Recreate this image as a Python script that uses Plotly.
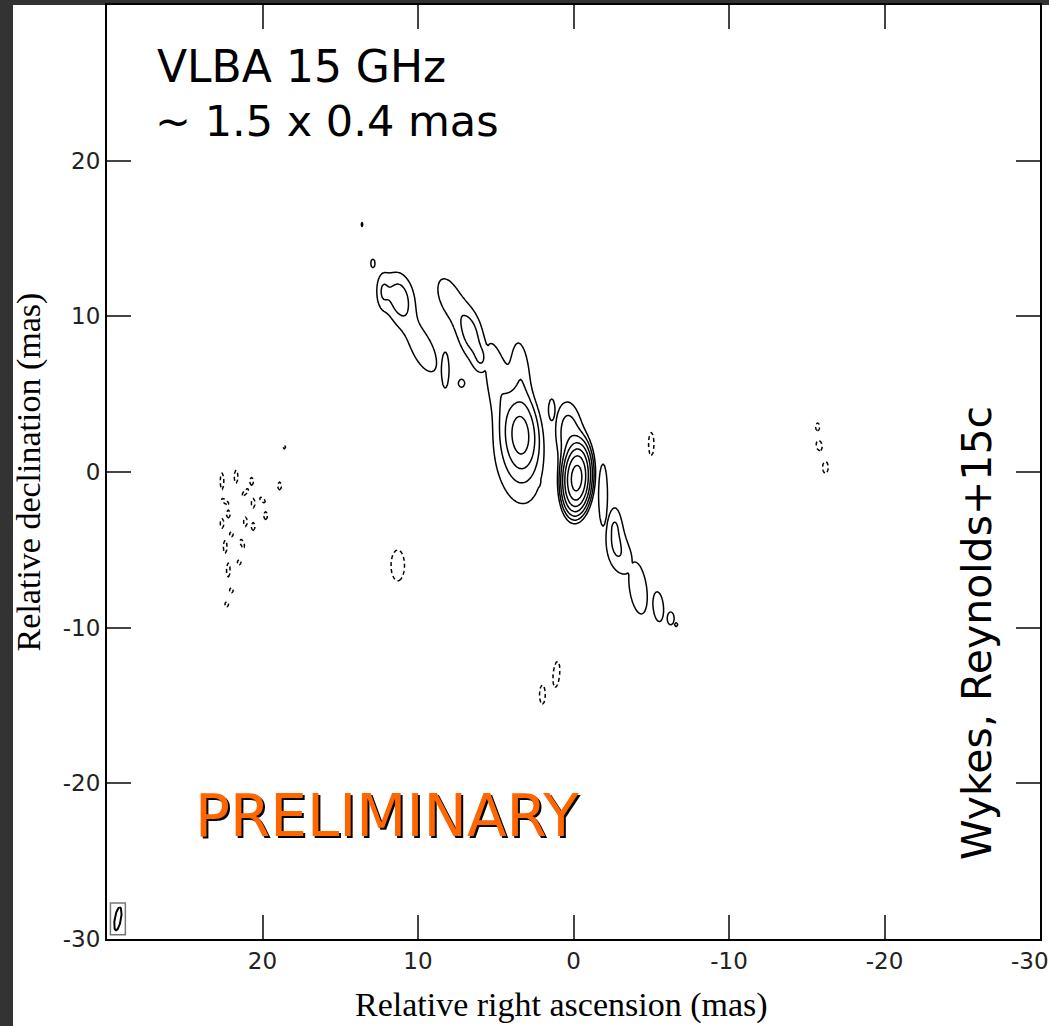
import numpy as np
import plotly.graph_objects as go

# ---------------- data: Gaussian model components read from the map ----------------
# x = relative RA offset (mas, east positive), y = relative Dec offset (mas)
# peak in units of the lowest contour, FWHM major/minor in mas, PA in deg (E of N)
# components sharing a group are summed; groups are combined by maximum
pos_group = [0, 0, 1, 2, 2, 2, 3, 4, 5, 6,
             7, 7, 7, 7, 8, 9,
             10, 10, 10, 11, 12,
             13, 13, 13, 14, 15]
pos_x    = [-0.2, 0.25, -1.9, -2.65, -3.1, -2.65, -4.15, -5.45, -6.25, -6.6,
            3.4, 3.6, 5.0, 3.4, 2.3, 1.4,
            6.6, 8.0, 5.9, 8.25, 7.2,
            11.2, 9.7, 12.3, 12.9, 13.6]
pos_y    = [-0.4, 2.3, -1.48, -3.6, -5.4, -3.5, -7.45, -8.65, -9.4, -9.8,
            2.4, 1.0, 6.3, 6.6, -0.6, 4.0,
            8.8, 11.2, 7.2, 6.55, 5.7,
            11.2, 7.9, 11.6, 13.4, 15.9]
pos_peak = [90, 3.0, 1.9, 1.6, 1.6, 0.3, 1.9, 1.9, 1.6, 1.2,
            10, 1.8, 1.6, 1.6, 1.3, 1.4,
            2.45, 1.5, 1.4, 1.6, 1.2,
            2.6, 1.7, 1.4, 1.3, 1.1]
pos_maj  = [2.3, 3.5, 4.15, 3.0, 2.8, 0.7, 3.5, 2.0, 1.0, 0.5,
            3.0, 6.5, 4.6, 3.9, 1.3, 2.0,
            2.9, 3.3, 1.6, 2.8, 1.0,
            2.8, 3.6, 2.0, 0.9, 0.7]
pos_min  = [0.95, 1.4, 0.6, 0.95, 1.5, 0.4, 1.15, 0.7, 0.55, 0.4,
            1.36, 3.0, 1.3, 1.1, 0.65, 0.6,
            1.35, 1.6, 0.9, 0.6, 0.8,
            1.6, 1.5, 0.7, 0.45, 0.35]
pos_pa   = [-3, 5, 0, 0, 15, 0, 8, 5, 0, 0,
            3, 8, 10, 5, 0, 0,
            12, 20, 0, 0, 0,
            10, 25, 0, 0, 0]

neg_x    = [11.3, -5.0, -15.7, -15.8, -16.2, 1.1, 2.0,
            18.6, 22.6, 21.7, 20.7, 18.9, 21.1, 22.4, 20.6, 20.0, 22.2, 22.6,
            21.1, 20.6, 19.8, 22.0, 22.4, 21.3, 22.2, 21.5, 22.0, 22.3]
neg_y    = [-6.0, 1.8, 2.9, 1.7, 0.3, -13.0, -14.3,
            1.6, -0.6, -0.3, -0.6, -0.9, -1.3, -1.9, -2.0, -1.8, -2.7, -3.3,
            -3.2, -3.5, -2.8, -4.0, -4.8, -4.6, -6.3, -5.8, -7.6, -8.5]
neg_peak = [1.6, 1.4, 1.25, 1.3, 1.3, 1.4, 1.3,
            1.15, 1.25, 1.25, 1.25, 1.25, 1.25, 1.25, 1.25, 1.25, 1.25, 1.25,
            1.25, 1.25, 1.25, 1.25, 1.25, 1.25, 1.25, 1.25, 1.25, 1.25]
neg_maj  = [2.4, 2.1, 0.9, 1.1, 1.2, 2.4, 2.0,
            0.5, 1.9, 1.5, 0.9, 0.9, 1.0, 1.0, 1.1, 0.8, 0.9, 1.1,
            1.1, 0.9, 0.9, 0.6, 1.5, 1.0, 1.6, 0.6, 0.6, 0.6]
neg_min  = [1.05, 0.5, 0.45, 0.6, 0.6, 0.6, 0.6,
            0.4, 0.4, 0.4, 0.4, 0.4, 0.4, 0.4, 0.4, 0.4, 0.4, 0.4,
            0.4, 0.4, 0.4, 0.4, 0.4, 0.4, 0.4, 0.4, 0.4, 0.4]
neg_pa   = [0, 0, 0, 10, 0, -5, 0,
            0, 0, 0, 0, 0, -40, 50, 0, 45, 0, 0,
            0, 0, 0, 0, 0, 20, 0, 0, 0, 0]

beam_maj, beam_min, beam_pa = 1.5, 0.4, -10
beam_center = (29.3, -28.7)

n_pos_levels = 7          # contours at 1, 2, 4, ... 2^(n-1) x lowest level
tick_vals = [-30, -20, -10, 0, 10, 20, 30]
x_tick_text = ["", "-20", "-10", "0", "10", "20", ""]
y_tick_text = ["-30", "-20", "-10", "0", "10", "20", ""]
edge_tick_label = "-30"

# ---------------- model image ----------------
xs = np.round(np.arange(-19.0, 25.0001, 0.1), 2)
ys = np.round(np.arange(-17.0, 17.0001, 0.1), 2)
X, Y = np.meshgrid(xs, ys)


def gauss(x0, y0, p, a, b, t):
    th = np.deg2rad(t)
    dx, dy = X - x0, Y - y0
    u = dx * np.sin(th) + dy * np.cos(th)
    v = dx * np.cos(th) - dy * np.sin(th)
    return p * np.exp(-4 * np.log(2) * ((u / a) ** 2 + (v / b) ** 2))


groups = {}
for g, x0, y0, p, a, b, t in zip(pos_group, pos_x, pos_y, pos_peak, pos_maj, pos_min, pos_pa):
    groups[g] = groups.get(g, 0) + gauss(x0, y0, p, a, b, t)
zp = np.max(np.stack(list(groups.values())), axis=0)

zn = np.max(np.stack([gauss(*c) for c in zip(neg_x, neg_y, neg_peak, neg_maj, neg_min, neg_pa)]), axis=0)

zp_log = np.round(np.log2(np.maximum(zp, 1e-3)), 3)
zn_r = np.round(zn, 3)

fig = go.Figure()
fig.add_trace(go.Contour(
    x=xs, y=ys, z=zp_log,
    contours=dict(start=0, end=n_pos_levels - 1, size=1, coloring="none"),
    line=dict(color="black", width=1.5, smoothing=0.6),
    showscale=False, hoverinfo="skip"))
fig.add_trace(go.Contour(
    x=xs, y=ys, z=zn_r,
    contours=dict(start=1, end=1.5, size=1, coloring="none"),
    line=dict(color="black", width=1.5, dash="4px,3px", smoothing=0.6),
    showscale=False, hoverinfo="skip"))

# beam ellipse
t = np.linspace(0, 2 * np.pi, 80)
th = np.deg2rad(beam_pa)
bx = beam_center[0] + beam_maj / 2 * np.cos(t) * np.sin(th) + beam_min / 2 * np.sin(t) * np.cos(th)
by = beam_center[1] + beam_maj / 2 * np.cos(t) * np.cos(th) - beam_min / 2 * np.sin(t) * np.sin(th)
fig.add_trace(go.Scatter(x=bx, y=by, mode="lines", line=dict(color="black", width=2),
                         hoverinfo="skip", showlegend=False))
fig.add_shape(type="rect", xref="x", yref="y",
              x0=beam_center[0] + 0.48, x1=beam_center[0] - 0.48,
              y0=beam_center[1] - 1.02, y1=beam_center[1] + 1.02,
              line=dict(color="#777", width=1.5))

# ---------------- layout ----------------
W, H = 1049, 1026
L, R, T, B = 107, 9, 5, 87
pw, ph = W - L - R, H - T - B


def px(x):
    return (x - L) / pw


def py(y):
    return (H - B - y) / ph


tickfont = dict(family="DejaVu Sans", size=23, color="#222")
axis_common = dict(
    showline=True, linecolor="black", linewidth=2, mirror="allticks",
    ticks="inside", ticklen=24, tickwidth=1.5, tickcolor="#444",
    tickvals=tick_vals, showgrid=False, zeroline=False,
    tickfont=tickfont,
)
fig.update_xaxes(range=[30, -30], ticktext=x_tick_text, **axis_common)
fig.update_yaxes(range=[-30, 30], ticktext=y_tick_text, **axis_common,
                 title=dict(text="Relative declination (mas)",
                            font=dict(family="Liberation Serif", size=34, color="black"),
                            standoff=12))

shapes = [
    dict(type="rect", xref="paper", yref="paper", x0=px(-20), x1=px(13), y0=py(H + 20), y1=py(-20),
         fillcolor="#333333", line=dict(width=0), layer="below"),
    dict(type="rect", xref="paper", yref="paper", x0=px(-20), x1=px(W + 20), y0=py(5), y1=py(-20),
         fillcolor="#333333", line=dict(width=0), layer="below"),
]
for s in shapes:
    fig.add_shape(**s)

ann = []
ann.append(dict(x=px(1030), y=py(961), text=edge_tick_label, xanchor="center", yanchor="middle",
                font=tickfont))
ann.append(dict(x=px(561), y=py(1005), text="Relative right ascension (mas)",
                xanchor="center", yanchor="middle",
                font=dict(family="Liberation Serif", size=34, color="black")))
ann.append(dict(x=px(155), y=py(67), text="VLBA 15 GHz", xanchor="left", yanchor="middle",
                font=dict(family="DejaVu Sans", size=44, color="black")))
ann.append(dict(x=px(153), y=py(121), text="~ 1.5 x 0.4 mas", xanchor="left", yanchor="middle",
                font=dict(family="DejaVu Sans", size=43, color="black")))
ann.append(dict(x=px(389), y=py(818), text="PRELIMINARY", xanchor="center", yanchor="middle",
                font=dict(family="DejaVu Sans", size=58, color="black")))
ann.append(dict(x=px(387), y=py(816), text="PRELIMINARY", xanchor="center", yanchor="middle",
                font=dict(family="DejaVu Sans", size=58, color="#ff6600")))
ann.append(dict(x=px(977), y=py(633), text="Wykes, Reynolds+15c", textangle=-90,
                xanchor="center", yanchor="middle",
                font=dict(family="DejaVu Sans", size=41, color="black")))
for a in ann:
    fig.add_annotation(xref="paper", yref="paper", showarrow=False, **a)

fig.update_layout(
    width=W, height=H, margin=dict(l=L, r=R, t=T, b=B, autoexpand=False),
    paper_bgcolor="white", plot_bgcolor="white", showlegend=False,
)

fig.write_html("out.html")
